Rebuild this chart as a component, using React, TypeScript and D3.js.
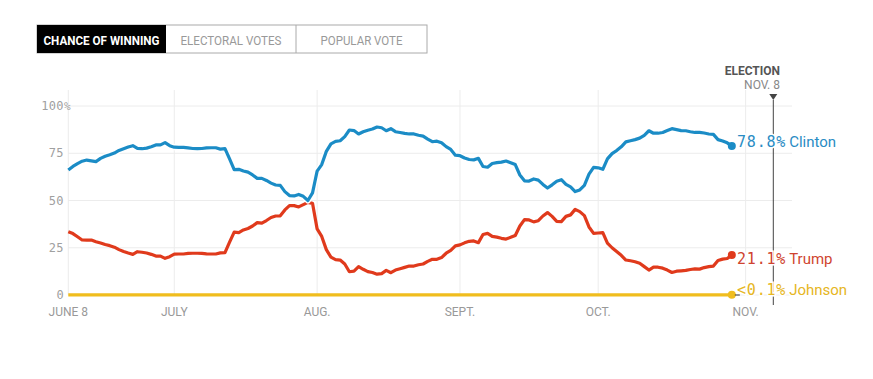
import React from "react";
import * as d3 from "d3";

const START = "2016-06-08";
const ELECTION = "2016-11-08";

// daily values from June 8 (index 0) to Oct 30 (index 144)
const clinton = [
  66.1, 68, 69.5, 70.8, 71.4, 71.0, 70.6, 72.3, 73.4, 74.2,
  75.1, 76.5, 77.4, 78.3, 79.0, 77.6, 77.4, 77.7, 78.4, 79.4,
  79.4, 80.6, 79.0, 78.2, 78.1, 78.1, 77.8, 77.5, 77.4, 77.5,
  77.8, 77.9, 77.9, 77.2, 77.4, 72, 66.3, 66.5, 65.6, 65.0,
  63.5, 61.7, 61.7, 60.6, 59.2, 58.2, 58.0, 54.7, 52.6, 52.4,
  53.2, 52.2, 50.0, 54, 65.5, 69, 76, 80, 81.3, 81.6,
  83.8, 87.3, 87.0, 85.2, 86.4, 87.2, 87.8, 88.9, 88.5, 86.9,
  88.0, 86.4, 86.0, 85.5, 85.2, 85.2, 84.5, 84.1, 82.5, 81.1,
  81.4, 80.6, 78.5, 77.0, 74.0, 73.7, 72.5, 71.7, 71.5, 72.3,
  68.0, 67.6, 69.6, 70.0, 70.3, 70.9, 70.0, 69.0, 63.5, 60.4,
  60.3, 61.4, 60.8, 58.5, 56.6, 58.3, 60.2, 61.0, 58.5, 57.2,
  54.7, 55.6, 58.0, 64.0, 67.5, 67.3, 66.5, 72.0, 74.8, 76.4,
  78.4, 81.0, 81.6, 82.2, 83.0, 84.5, 86.9, 85.6, 85.6, 86.0,
  87.0, 88.0, 87.5, 87.0, 86.9, 86.4, 86.0, 86.0, 85.7, 85.2,
  85.0, 82.2, 81.5, 80.5, 78.8,
];

const trump = [
  33.5, 32.5, 30.8, 29.1, 29.0, 29.1, 28.2, 27.5, 26.7, 26.1,
  25.3, 24.0, 23.0, 22.2, 21.5, 22.9, 22.6, 22.2, 21.5, 20.6,
  20.6, 19.4, 20.3, 21.6, 21.7, 21.7, 22.0, 22.1, 22.1, 22.0,
  21.8, 21.7, 21.7, 22.3, 22.4, 28, 33.3, 33.0, 34.4, 35.2,
  36.5, 38.3, 38.0, 39.4, 41.0, 41.8, 41.9, 45.0, 47.3, 47.3,
  46.6, 47.8, 49.0, 48.5, 35.0, 31, 24, 20, 18.7, 18.5,
  16.4, 12.3, 12.6, 15.0, 13.6, 12.4, 11.9, 11.0, 11.3, 13.0,
  11.8, 13.2, 13.9, 14.6, 15.3, 15.3, 16.0, 16.4, 17.8, 18.9,
  18.9, 19.8, 22.1, 23.6, 26.0, 26.5, 27.6, 28.4, 28.6, 27.7,
  32.0, 32.6, 31.0, 30.6, 30.0, 29.6, 30.5, 31.5, 36.5, 39.9,
  39.7, 38.7, 39.3, 41.8, 43.6, 41.6, 39.0, 38.8, 41.6, 42.4,
  45.3, 44.1, 42.0, 36.0, 32.6, 32.8, 33.0, 27.5, 25.0, 23.0,
  21.0, 18.5, 18.1, 17.6, 16.8, 15.0, 13.2, 14.7, 14.7, 14.2,
  13.2, 11.9, 12.6, 12.8, 13.0, 13.5, 13.8, 13.7, 14.5, 15.0,
  15.3, 18.3, 19.0, 19.3, 21.1,
];

const johnsonDays = [0, 30, 60, 90, 120, 144];
const johnson = [0.1, 0.1, 0.1, 0.1, 0.1, 0.1];

const yTicks = [0, 25, 50, 75, 100];
const xTickDates = ["2016-06-08", "2016-07-01", "2016-08-01", "2016-09-01", "2016-10-01", "2016-11-02"];
const xTickLabels = ["JUNE 8", "JULY", "AUG.", "SEPT.", "OCT.", "NOV."];

const tabs = ["CHANCE OF WINNING", "ELECTORAL VOTES", "POPULAR VOTE"];

const candidates = [
  { name: "Clinton", label: "78.8%", color: "#1b8cc6", text: "#2a8cc4", labelY: 142 },
  { name: "Trump", label: "21.1%", color: "#e03a1c", text: "#cf4430", labelY: 259 },
  { name: "Johnson", label: "<0.1%", color: "#f0bd1e", text: "#e6b623", labelY: 290 },
];

const parse = d3.timeParse("%Y-%m-%d");

export default function App() {
  const start = parse(START)!;
  const election = parse(ELECTION)!;
  const x = d3.scaleTime().domain([start, election]).range([68.3, 773.3]);
  const y = d3.scaleLinear().domain([0, 100]).range([295, 106]);
  const dayDate = (i: number) => d3.timeDay.offset(start, i);

  const line = d3
    .line<number>()
    .x((_, i) => x(dayDate(i)))
    .y((v) => y(v))
    .curve(d3.curveLinear);

  const jLine = d3
    .line<number>()
    .x((_, i) => x(dayDate(johnsonDays[i])))
    .y((v) => y(v));

  const lastI = clinton.length - 1;
  const lastX = x(dayDate(lastI));
  const lastVals = [clinton[lastI], trump[lastI], johnson[johnson.length - 1]];

  const tabX = [37, 166, 296, 427];
  const tabTextLen = [116, 101, 82];

  const mono = "'DejaVu Sans Mono', monospace";
  const sans = "Roboto, 'Liberation Sans', sans-serif";

  return (
    <svg
      width={873}
      height={379}
      style={{ position: "absolute", left: 0, top: 0, background: "#fff" }}
    >
      {/* tabs */}
      <rect x={tabX[0]} y={25} width={tabX[3] - tabX[0]} height={28} fill="#fff" stroke="#aaa" strokeWidth={1} />
      <rect x={tabX[0]} y={25} width={tabX[1] - tabX[0]} height={28} fill="#000" />
      <line x1={tabX[2]} x2={tabX[2]} y1={25} y2={53} stroke="#aaa" />
      {tabs.map((t, i) => (
        <text
          key={t}
          x={(tabX[i] + tabX[i + 1]) / 2}
          y={44.5}
          textAnchor="middle"
          fontFamily={sans}
          fontSize={13}
          fontWeight={i === 0 ? 700 : 400}
          fill={i === 0 ? "#fff" : "#999"}
          textLength={tabTextLen[i]}
          lengthAdjust="spacingAndGlyphs"
        >
          {t}
        </text>
      ))}

      {/* gridlines */}
      {yTicks.map((t) => (
        <line key={"h" + t} x1={68} x2={792} y1={y(t)} y2={y(t)} stroke="#ececec" strokeWidth={1} />
      ))}
      {xTickDates.map((d) => (
        <line
          key={"v" + d}
          x1={x(parse(d)!)}
          x2={x(parse(d)!)}
          y1={90}
          y2={295}
          stroke="#ececec"
          strokeWidth={1}
        />
      ))}

      {/* y labels */}
      {yTicks.map((t) => (
        <text
          key={"yl" + t}
          x={64}
          y={y(t) + 4}
          textAnchor="end"
          fontFamily={mono}
          fontSize={12}
          letterSpacing={0.4}
          fill="#a0a0a0"
        >
          {t}
        </text>
      ))}
      <text x={64} y={y(100) + 4} fontFamily={mono} fontSize={11} fill="#a0a0a0">
        %
      </text>

      {/* x labels */}
      {xTickDates.map((d, i) => (
        <text
          key={"xl" + d}
          x={x(parse(d)!)}
          y={316}
          textAnchor="middle"
          fontFamily={sans}
          fontSize={12}
          fill="#999"
        >
          {xTickLabels[i]}
        </text>
      ))}

      {/* election marker */}
      <text x={780} y={75} textAnchor="end" fontFamily={sans} fontSize={12} fontWeight={700} fill="#555">
        ELECTION
      </text>
      <text x={780} y={88.5} textAnchor="end" fontFamily={sans} fontSize={12} fill="#888">
        NOV. 8
      </text>
      <path
        d={`M${x(election) - 4},94 L${x(election) + 4},94 L${x(election)},100 Z`}
        fill="#444"
      />
      <line x1={x(election)} x2={x(election)} y1={100} y2={305} stroke="#444" strokeWidth={1} />

      {/* lines */}
      <path d={jLine(johnson) ?? ""} fill="none" stroke={candidates[2].color} strokeWidth={3.2} />
      <path d={line(trump) ?? ""} fill="none" stroke={candidates[1].color} strokeWidth={3.2} strokeLinejoin="round" />
      <path d={line(clinton) ?? ""} fill="none" stroke="#fff" strokeWidth={6} strokeLinejoin="round" />
      <path d={line(clinton) ?? ""} fill="none" stroke={candidates[0].color} strokeWidth={3.2} strokeLinejoin="round" />

      {/* end dots and labels */}
      {candidates.map((c, i) => (
        <g key={c.name}>
          <circle cx={lastX} cy={y(lastVals[i])} r={4} fill={c.color} />
          <text
            x={737}
            y={c.labelY + 5}
            fontSize={15}
            stroke="#fff"
            strokeWidth={3}
            paintOrder="stroke"
            fill={c.text}
          >
            <tspan fontFamily={mono} letterSpacing={0.8}>
              {c.label}
            </tspan>
            <tspan fontFamily={sans} dx={3}>
              {c.name}
            </tspan>
          </text>
        </g>
      ))}
      <line x1={lastX + 3} x2={lastX + 8} y1={y(0)} y2={y(0)} stroke="#333" strokeWidth={1} />
    </svg>
  );
}
